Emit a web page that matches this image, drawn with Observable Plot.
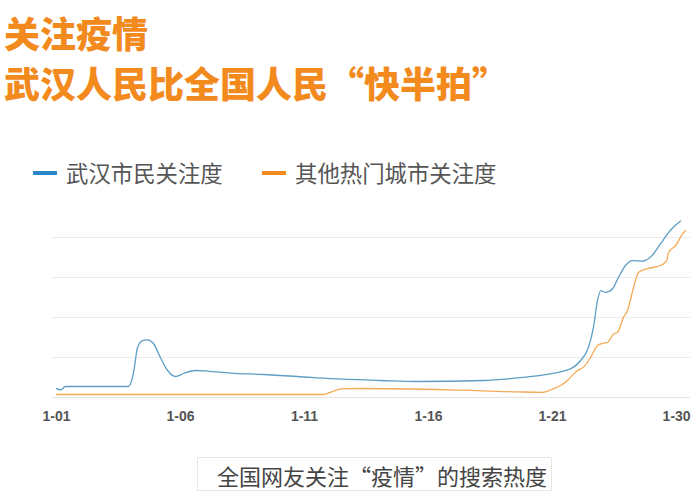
<!DOCTYPE html>
<html><head><meta charset="utf-8">
<script src="https://cdn.jsdelivr.net/npm/d3@7"></script>
<script src="https://cdn.jsdelivr.net/npm/@observablehq/plot@0.6"></script>
<style>
html,body{margin:0;padding:0;background:#fff;}
#page{position:relative;width:700px;height:500px;overflow:hidden;font-family:"Noto Sans CJK SC","Noto Sans",sans-serif;}
.t{position:absolute;left:4px;color:#f28a1e;font-weight:900;white-space:nowrap;line-height:1;}
#t1{top:14px;font-size:36px;}
#t2{top:64px;font-size:36px;}
.leg{position:absolute;top:161px;font-size:22.4px;line-height:1;color:#555;white-space:nowrap;}
.sw{position:absolute;top:171px;width:24px;height:4px;}
#cap{position:absolute;left:197px;top:457px;width:355px;height:34px;border:1px solid #e6e6e6;box-sizing:border-box;}
#capt{position:absolute;left:217px;top:464px;font-size:22px;line-height:1;color:#444;white-space:nowrap;}
#chart{position:absolute;left:0;top:180px;}
</style></head>
<body><div id="page">
<div class="t" id="t1">关注疫情</div>
<div class="t" id="t2">武汉人民比全国人民“快半拍”</div>
<div class="sw" style="left:33px;background:#2b87c8"></div>
<div class="leg" style="left:66px">武汉市民关注度</div>
<div class="sw" style="left:262px;background:#f28a1e"></div>
<div class="leg" style="left:295px">其他热门城市关注度</div>
<div id="chart"></div>
<div id="cap"></div>
<div id="capt">全国网友关注“疫情”的搜索热度</div>
</div>
<script>
// Wuhan series (day offset from 1-01, search heat)
const wuhanDays = [0,0.16,0.36,2.9,3.1,3.27,3.47,3.67,3.91,4.19,4.48,4.8,5.12,5.6,6.09,7.02,8.35,9.72,11.05,13.06,14.56,17.22,18.59,19.92,20.44,20.85,21.13,21.45,21.65,21.81,21.94,22.14,22.42,22.66,22.94,23.23,23.63,23.95,24.35,24.68,25.16];
const wuhanVals = [22,19,27.5,27.5,60,125,142,144,135,100,67.5,52.5,60,67.5,66,61,57.5,52.5,47,42.5,40,42.5,49,59,66,76,92.5,126,176,242,267,263,272,301,330,342,341,351,384,413,441];
// Other hot cities series
const otherDays = [0,10.77,11.05,11.57,12.3,15.89,18.59,19.6,20.04,20.32,20.6,20.85,21.01,21.25,21.53,21.81,22.06,22.22,22.46,22.62,22.86,23.02,23.23,23.47,23.83,24.35,24.6,24.68,24.96,25.24,25.36];
const otherVals = [7.5,7.5,13,22,22.5,19,14,13,22,30,42.5,59,67.5,76,100,130,136,138,159,163,201,217,267,313,322,330,342,363,380,409,417];
const tickDays = [0,5,10,15,20,25];
const tickLabels = ["1-01","1-06","1-11","1-16","1-21","1-30"];
const gridVals = [100,200,300,400];

const wuhan = wuhanDays.map((d,i)=>({d, v: wuhanVals[i]}));
const other = otherDays.map((d,i)=>({d, v: otherVals[i]}));

const chart = Plot.plot({
  width: 700, height: 260,
  marginLeft: 52, marginRight: 10, marginTop: 57, marginBottom: 43,
  x: {domain: [-0.16, 25.56]},
  y: {domain: [0, 400], axis: null},
  style: {fontFamily: "'Liberation Sans', Arial, sans-serif", background: "transparent"},
  marks: [
    Plot.gridY(gridVals, {stroke: "#ececec", strokeOpacity: 1}),
    Plot.ruleY([0], {stroke: "#e2e2e2"}),
    Plot.axisX({ticks: tickDays, tickFormat: (d) => tickLabels[tickDays.indexOf(d)], tickSize: 0, tickPadding: 14, fontSize: 14, fontWeight: "bold", fill: "#555", label: null}),
    Plot.line(other, {x: "d", y: "v", stroke: "#f4a955", strokeWidth: 1.3, curve: "monotone-x"}),
    Plot.line(wuhan, {x: "d", y: "v", stroke: "#5c9ec4", strokeWidth: 1.3, curve: "monotone-x"})
  ]
});
document.getElementById("chart").appendChild(chart);
</script>
</body></html>
